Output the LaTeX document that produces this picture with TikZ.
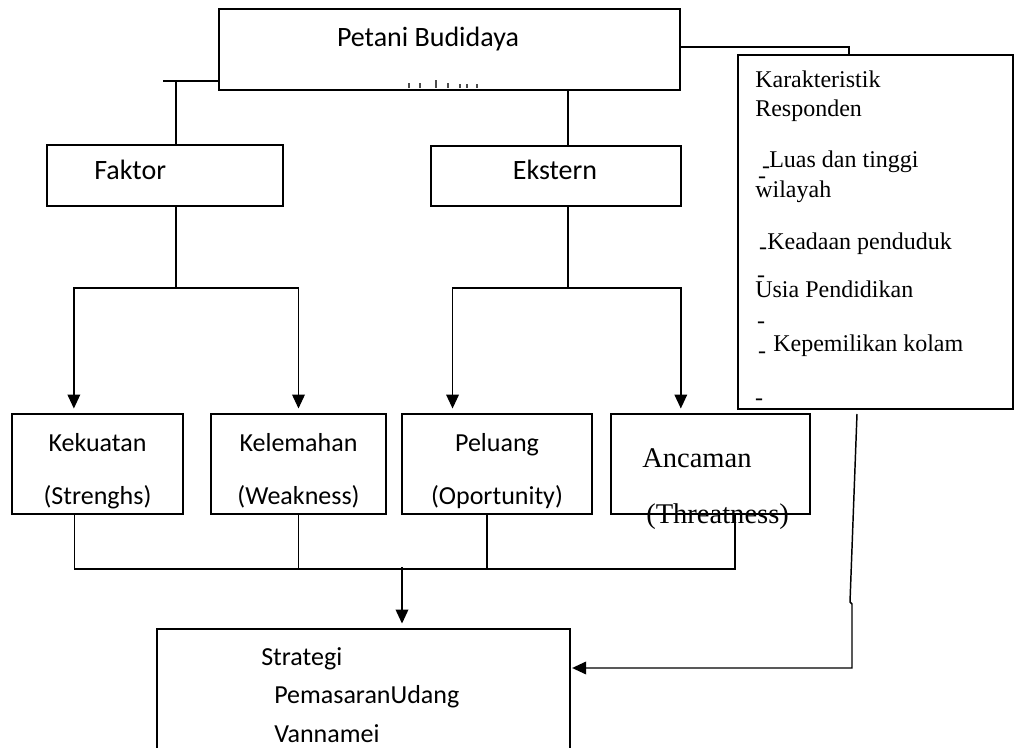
\documentclass[tikz,border=0pt]{standalone}
\usepackage{fontspec}
\setmainfont{Liberation Serif}
\newfontfamily\calibri{Carlito}
\usetikzlibrary{arrows.meta,calc}

\tikzset{
  kotak/.style 2 args={draw,line width=1.2pt,minimum width=#1*0.75pt,minimum height=#2*0.75pt,inner sep=0pt},
  garis/.style={line width=1.1pt},
  panah/.style={garis,-{Triangle[length=10.5pt,width=9.5pt]},shorten >=3.5pt},
  teks/.style={font=\calibri\fontsize{19.5}{23}\selectfont,inner sep=0pt},
  judul/.style={font=\calibri\fontsize{21}{25}\selectfont,inner sep=0pt},
  ket/.style={font=\fontsize{18}{21}\selectfont,inner sep=0pt,anchor=base west},
  strip/.style={font=\fontsize{18}{21}\selectfont,inner sep=0pt},
}

\begin{document}
\begin{tikzpicture}[x=0.75pt,y=-0.75pt]
\clip (0,0) rectangle (1015,748);
\fill[white] (0,0) rectangle (1015,748);

% kotak atas
\node[kotak={461}{81}] (petani) at (449.5,49.5) {};
\node[judul,anchor=base] (petanilbl) at (428,47) {Petani Budidaya};
\foreach \x/\h in {409/5,420/5,436/8,448/5,460/4,467/4,477/4}
  \draw[black!70,line width=1.2pt] (\x,88) -- (\x,88-\h); % sisa teks terpotong

\node[kotak={236}{61}] (faktor) at (165,175.5) {};
\node[judul,anchor=base west] (faktorlbl) at (94,180) {Faktor};
\node[kotak={250}{60}] (ekstern) at (556,176) {};
\node[judul,anchor=base] (eksternlbl) at (555,180) {Ekstern};

% karakteristik responden
\node[kotak={275}{354}] (karakter) at (875.5,232) {};
\node[ket] (kar1) at (755,88) {Karakteristik};
\node[ket] (kar2) at (755,117) {Responden};
\node[ket] (kar3) at (769,168) {Luas dan tinggi};
\node[ket] (kar4) at (755,198) {wilayah};
\node[ket] (kar5) at (767,250) {Keadaan penduduk};
\node[ket] (kar6) at (755,298) {Usia Pendidikan};
\node[ket] (kar7) at (773,352) {Kepemilikan kolam};
\foreach \x/\y [count=\i] in {762/180,761/279,761/325,759/402,763/251,762/355,766/170}
  \node[strip] (strip\i) at (\x,\y) {-};

% SWOT
\node[kotak={171}{100}] (kekuatan) at (97.5,464) {};
\node[kotak={175}{100}] (kelemahan) at (298.5,464) {};
\node[kotak={190}{100}] (peluang) at (497,464) {};
\node[kotak={199}{100}] (ancaman) at (710.5,464) {};
\node[teks,anchor=base] (kekuatana) at (97.5,452) {Kekuatan};
\node[teks,anchor=base] (kekuatanb) at (97.5,505) {(Strenghs)};
\node[teks,anchor=base] (kelemahana) at (298.5,452) {Kelemahan};
\node[teks,anchor=base] (kelemahanb) at (298.5,505) {(Weakness)};
\node[teks,anchor=base] (peluanga) at (497,452) {Peluang};
\node[teks,anchor=base] (peluangb) at (497,505) {(Oportunity)};
\node[font=\fontsize{21.4}{25}\selectfont,inner sep=0pt,anchor=base west] (ancamana) at (642,468) {Ancaman};
\node[font=\fontsize{21.4}{25}\selectfont,inner sep=0pt,anchor=base west] (ancamanb) at (646,524) {(Threatness)};

% strategi
\node[kotak={413}{170}] (strategi) at (363.5,714) {};
\node[teks,anchor=base west] (strategia) at (261,666) {Strategi};
\node[teks,anchor=base west] (strategib) at (274,704) {PemasaranUdang};
\node[teks,anchor=base west] (strategic) at (274,742) {Vannamei};

% garis faktor
\coordinate (lt) at (163,81);
\coordinate (lj) at (176,81);
\draw[garis] (lt) -- (petani.west |- lt);
\draw[garis] (lj) -- (lj |- faktor.north);
\coordinate (fb) at (176,288);
\draw[garis] (faktor.south -| fb) -- (fb);
\draw[panah] (fb) -| ($(kekuatan.north west)!0.363!(kekuatan.north east)$);
\draw[panah] (fb) -| (kelemahan.north);

% garis ekstern
\coordinate (eb) at (568,288);
\draw[garis] (petani.south -| eb) -- (ekstern.north -| eb);
\draw[garis] (ekstern.south -| eb) -- (eb);
\draw[panah] (eb) -| ($(peluang.north west)!0.268!(peluang.north east)$);
\draw[panah] (eb) -| ($(ancaman.north west)!0.352!(ancaman.north east)$);

\coordinate (rt) at (849,47);
\draw[garis] (petani.east |- rt) -- (rt) -- (rt |- karakter.north);

% gabungan ke strategi
\coordinate (mb) at (402,569);
\coordinate (sb) at ($(kekuatan.south west)!0.368!(kekuatan.south east)$);
\coordinate (pb) at ($(peluang.south west)!0.447!(peluang.south east)$);
\coordinate (ab) at ($(ancaman.south west)!0.623!(ancaman.south east)$);
\draw[garis] (sb) |- (mb) -| (ab);
\draw[garis] (kelemahan.south) -- (kelemahan.south |- mb);
\draw[garis] (pb) -- (pb |- mb);
\draw[panah] ([yshift=1.5pt]mb) -- (mb |- strategi.north);

\coordinate (kb) at (857,414);
\coordinate (kc) at (850,602);
\coordinate (kd) at (852,604);
\coordinate (ke) at (852,668);
\draw[panah,shorten >=1pt] (kb) -- (kc) -- (kd) -- (ke) -- (ke -| strategi.east);

\end{tikzpicture}
\end{document}
